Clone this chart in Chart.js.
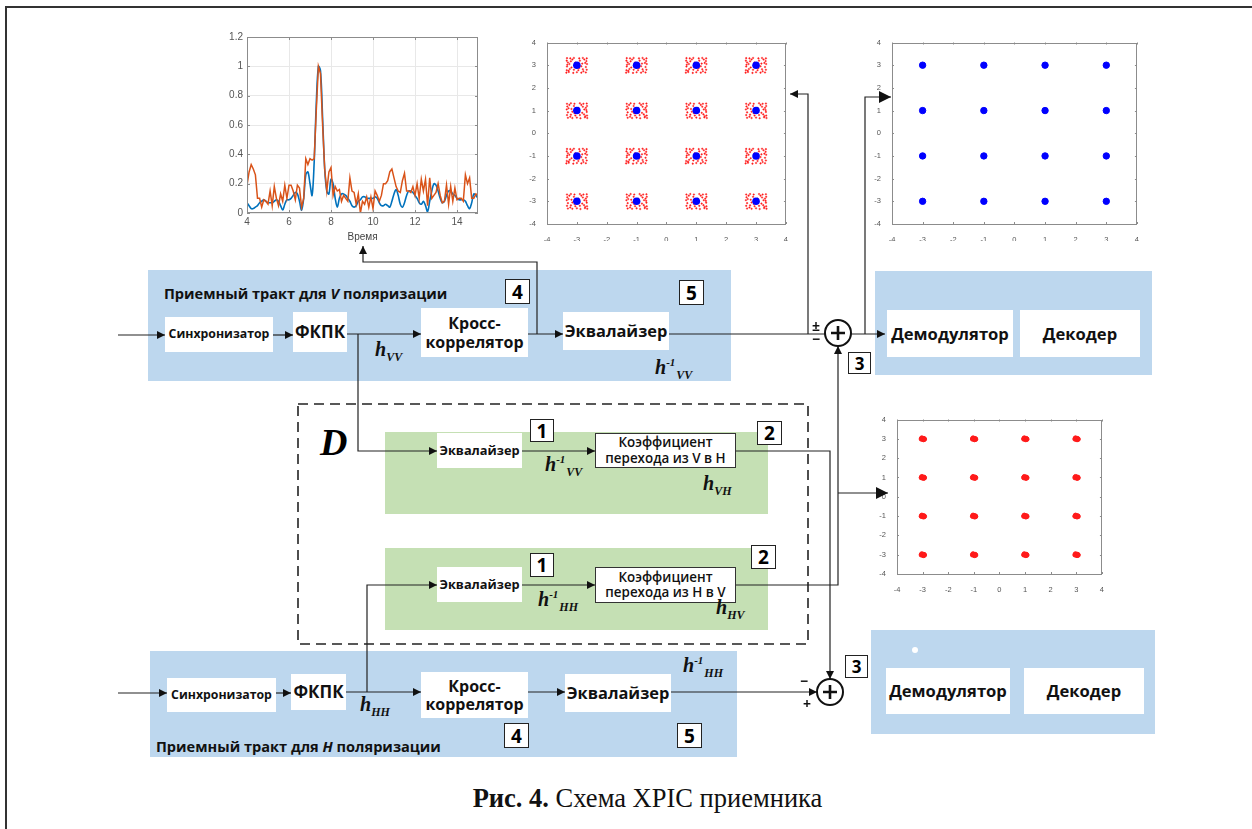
<!DOCTYPE html>
<html>
<head>
<meta charset="utf-8">
<script src="https://cdn.jsdelivr.net/npm/chart.js@4/dist/chart.umd.min.js"></script>
<style>
  body { margin: 0; background: #fff; }
  #page { position: relative; width: 1252px; height: 829px; overflow: hidden; background: #fff; font-family: 'Open Sans', sans-serif; }
  .abs { position: absolute; }
  .panel-b { position: absolute; background: #bdd7ee; }
  .panel-g { position: absolute; background: #c5e0b4; }
  .box { position: absolute; background: #fff; display: flex; align-items: center; justify-content: center; text-align: center; font-weight: 700; color: #111; line-height: 1.15; white-space: nowrap; }
  .num { position: absolute; background: #fff; border: 1.5px solid #222; font-weight: 700; font-size: 19px; display: flex; align-items: center; justify-content: center; box-sizing: border-box; font-family: 'Open Sans', sans-serif; }
  .h { position: absolute; font-family: 'Liberation Serif', serif; font-weight: 700; font-style: italic; font-size: 20px; white-space: nowrap; color: #111; }
  .h sub { font-size: 12px; vertical-align: -5px; }
  .h sup { font-size: 11px; vertical-align: 8px; margin-right: 1px; }
  .title { position: absolute; font-weight: 700; font-size: 14.6px; white-space: nowrap; color: #111; }
  canvas { position: absolute; }
</style>
</head>
<body>
<div id="page">
  <div class="abs" style="left:5px;top:6px;width:1300px;height:900px;border-left:2px solid #333;border-top:2px solid #333;"></div>

  <!-- V path -->
  <div class="panel-b" style="left:148px;top:270px;width:583px;height:111px;"></div>
  <div class="title" style="left:164px;top:283px;">Приемный тракт для <i>V</i> поляризации</div>
  <div class="num" style="left:505px;top:279px;width:25px;height:25px;">4</div>
  <div class="num" style="left:679px;top:280px;width:25px;height:25px;">5</div>
  <div class="box" style="left:165px;top:317px;width:108px;height:35px;font-size:12.3px;">Синхронизатор</div>
  <div class="box" style="left:293px;top:312px;width:54px;height:40px;font-size:17px;">ФКПК</div>
  <div class="box" style="left:421px;top:308px;width:107px;height:49px;font-size:16px;">Кросс-<br>коррелятор</div>
  <div class="box" style="left:563px;top:312px;width:106px;height:38px;font-size:16.4px;">Эквалайзер</div>
  <div class="h" style="left:375px;top:338px;"><i>h</i><sub>VV</sub></div>
  <div class="h" style="left:655px;top:356px;"><i>h</i><sup>-1</sup><sub>VV</sub></div>

  <!-- V output -->
  <div class="panel-b" style="left:875px;top:271px;width:277px;height:104px;"></div>
  <div class="box" style="left:887px;top:310px;width:126px;height:47px;font-size:16.6px;">Демодулятор</div>
  <div class="box" style="left:1020px;top:310px;width:120px;height:47px;font-size:16.6px;">Декодер</div>
  <div class="num" style="left:848px;top:352px;width:23px;height:22px;font-size:17px;">3</div>

  <!-- D block -->
  <div class="abs" style="left:320px;top:420px;font-family:'Liberation Serif',serif;font-weight:700;font-style:italic;font-size:38px;">D</div>
  <div class="panel-g" style="left:385px;top:432px;width:383px;height:82px;"></div>
  <div class="box" style="left:437px;top:433px;width:85px;height:35px;font-size:12.8px;">Эквалайзер</div>
  <div class="num" style="left:530px;top:419px;width:24px;height:23px;">1</div>
  <div class="box" style="left:595px;top:433px;width:141px;height:35px;font-size:13.4px;font-weight:600;border:1px solid #333;box-sizing:border-box;">Коэффициент<br>перехода из V в H</div>
  <div class="num" style="left:757px;top:421px;width:25px;height:24px;">2</div>
  <div class="h" style="left:545px;top:453px;"><i>h</i><sup>-1</sup><sub>VV</sub></div>
  <div class="h" style="left:703px;top:472px;"><i>h</i><sub>VH</sub></div>

  <div class="panel-g" style="left:385px;top:548px;width:383px;height:82px;"></div>
  <div class="box" style="left:437px;top:567px;width:85px;height:35px;font-size:12.8px;">Эквалайзер</div>
  <div class="num" style="left:530px;top:553px;width:24px;height:24px;">1</div>
  <div class="box" style="left:595px;top:567px;width:141px;height:36px;font-size:13.4px;font-weight:600;border:1px solid #333;box-sizing:border-box;">Коэффициент<br>перехода из H в V</div>
  <div class="num" style="left:751px;top:545px;width:25px;height:24px;">2</div>
  <div class="h" style="left:538px;top:588px;"><i>h</i><sup>-1</sup><sub>HH</sub></div>
  <div class="h" style="left:716px;top:596px;"><i>h</i><sub>HV</sub></div>

  <!-- H path -->
  <div class="panel-b" style="left:150px;top:651px;width:587px;height:106px;"></div>
  <div class="title" style="left:156px;top:736px;">Приемный тракт для <i>H</i> поляризации</div>
  <div class="num" style="left:504px;top:723px;width:25px;height:25px;">4</div>
  <div class="num" style="left:677px;top:723px;width:25px;height:25px;">5</div>
  <div class="box" style="left:167px;top:678px;width:109px;height:34px;font-size:12.3px;">Синхронизатор</div>
  <div class="box" style="left:291px;top:674px;width:55px;height:36px;font-size:17px;">ФКПК</div>
  <div class="box" style="left:421px;top:672px;width:107px;height:46px;font-size:16px;">Кросс-<br>коррелятор</div>
  <div class="box" style="left:565px;top:674px;width:106px;height:38px;font-size:16.4px;">Эквалайзер</div>
  <div class="h" style="left:360px;top:693px;"><i>h</i><sub>HH</sub></div>
  <div class="h" style="left:683px;top:654px;"><i>h</i><sup>-1</sup><sub>HH</sub></div>

  <!-- H output -->
  <div class="panel-b" style="left:871px;top:630px;width:284px;height:104px;"></div>
  <div class="abs" style="left:912px;top:647px;width:6px;height:6px;border-radius:50%;background:#fff;"></div>
  <div class="box" style="left:886px;top:668px;width:124px;height:46px;font-size:16.6px;">Демодулятор</div>
  <div class="box" style="left:1024px;top:668px;width:120px;height:46px;font-size:16.6px;">Декодер</div>
  <div class="num" style="left:845px;top:655px;width:23px;height:23px;font-size:17px;">3</div>

  <div class="abs" style="left:0;top:783px;width:1295px;text-align:center;font-family:'Liberation Serif',serif;font-size:26.5px;color:#111;"><b>Рис. 4.</b> Схема XPIC приемника</div>

  <canvas id="corr" width="268" height="220" style="left:215px;top:27px;"></canvas>
  <canvas id="const1" width="264" height="206" style="left:527px;top:35px;"></canvas>
  <canvas id="const2" width="270" height="206" style="left:872px;top:35px;"></canvas>
  <canvas id="const3" width="228" height="181" style="left:879px;top:412px;"></canvas>

  <svg class="abs" width="1252" height="829" style="left:0;top:0;pointer-events:none;">
    <defs>
      <marker id="ar" viewBox="0 0 10 10" refX="10" refY="5" markerWidth="8" markerHeight="8" markerUnits="userSpaceOnUse" orient="auto">
        <path d="M0,0 L10,5 L0,10 z" fill="#111"/>
      </marker>
      <marker id="arBig" viewBox="0 0 10 10" refX="10" refY="5" markerWidth="14" markerHeight="12" markerUnits="userSpaceOnUse" orient="auto">
        <path d="M0,0 L10,5 L0,10 z" fill="#111"/>
      </marker>
    </defs>
    <g fill="none" stroke="#222" stroke-width="1.2">
      <path d="M118,335 H165" marker-end="url(#ar)"/>
      <path d="M273,335 H293" marker-end="url(#ar)"/>
      <path d="M347,334 H421" marker-end="url(#ar)"/>
      <path d="M528,334 H563" marker-end="url(#ar)"/>
      <path d="M537,334 V262 H363 V246" marker-end="url(#ar)"/>
      <path d="M669,334 H825"/>
      <path d="M808,334 V94 H790" marker-end="url(#ar)"/>
      <path d="M851,334 H885" marker-end="url(#ar)"/>
      <path d="M865,334 V97 H891" marker-end="url(#arBig)"/>
      <path d="M358,334 V451 H437" marker-end="url(#ar)"/>
      <path d="M522,451 H595" marker-end="url(#ar)"/>
      <path d="M736,451 H830 V679" marker-end="url(#ar)"/>
      <path d="M367,692 V585 H437" marker-end="url(#ar)"/>
      <path d="M522,585 H595" marker-end="url(#ar)"/>
      <path d="M736,585 H838 V346" marker-end="url(#ar)"/>
      <path d="M838,493 H888" marker-end="url(#arBig)"/>
      <path d="M118,693 H167" marker-end="url(#ar)"/>
      <path d="M276,693 H291" marker-end="url(#ar)"/>
      <path d="M346,692 H421" marker-end="url(#ar)"/>
      <path d="M528,692 H565" marker-end="url(#ar)"/>
      <path d="M671,692 H817" marker-end="url(#ar)"/>
      <rect x="298" y="404" width="510" height="240" stroke-dasharray="10,6" stroke-width="1.6"/>
    </g>
    <g fill="none" stroke="#111" stroke-width="2">
      <circle cx="838" cy="333" r="13"/>
      <path d="M831,333 H845 M838,326 V340" stroke-width="2.6"/>
      <circle cx="830" cy="692" r="13"/>
      <path d="M823,692 H837 M830,685 V699" stroke-width="2.6"/>
    </g>
    <g font-family="Open Sans, sans-serif" font-weight="700" fill="#111">
      <text x="812" y="331" font-size="14">±</text>
      <text x="812" y="344" font-size="14">−</text>
      <text x="800" y="686" font-size="14">−</text>
      <text x="803" y="709" font-size="14">+</text>
    </g>
  </svg>
</div>

<script>
// correlation curves (time axis in samples)
const timeSteps = [
  4.0, 4.1, 4.2, 4.3, 4.4, 4.5, 4.6, 4.7, 4.8, 4.9,
  5.0, 5.1, 5.2, 5.3, 5.4, 5.5, 5.6, 5.7, 5.8, 5.9,
  6.0, 6.1, 6.2, 6.3, 6.4, 6.5, 6.6, 6.7, 6.8, 6.9,
  7.0, 7.1, 7.2, 7.3, 7.4, 7.5, 7.6, 7.7, 7.8, 7.9,
  8.0, 8.1, 8.2, 8.3, 8.4, 8.5, 8.6, 8.7, 8.8, 8.9,
  9.0, 9.1, 9.2, 9.3, 9.4, 9.5, 9.6, 9.7, 9.8, 9.9,
  10.0, 10.1, 10.2, 10.3, 10.4, 10.5, 10.6, 10.7, 10.8, 10.9,
  11.0, 11.1, 11.2, 11.3, 11.4, 11.5, 11.6, 11.7, 11.8, 11.9,
  12.0, 12.1, 12.2, 12.3, 12.4, 12.5, 12.6, 12.7, 12.8, 12.9,
  13.0, 13.1, 13.2, 13.3, 13.4, 13.5, 13.6, 13.7, 13.8, 13.9,
  14.0, 14.1, 14.2, 14.3, 14.4, 14.5, 14.6, 14.7, 14.8, 14.9,
  15.0
];
const corrBlue = [
  0.07, 0.05, 0.03, 0.03, 0.04, 0.05, 0.07, 0.08, 0.09, 0.08,
  0.07, 0.07, 0.07, 0.08, 0.09, 0.08, 0.05, 0.02, 0.06, 0.09,
  0.09, 0.10, 0.12, 0.14, 0.13, 0.08, 0.02, 0.10, 0.26, 0.28,
  0.20, 0.12, 0.35, 0.75, 1.00, 0.97, 0.65, 0.30, 0.15, 0.13,
  0.23, 0.20, 0.10, 0.04, 0.10, 0.13, 0.13, 0.12, 0.10, 0.08,
  0.05, 0.04, 0.05, 0.08, 0.09, 0.11, 0.11, 0.10, 0.10, 0.10,
  0.10, 0.11, 0.10, 0.07, 0.05, 0.05, 0.06, 0.05, 0.04, 0.08,
  0.13, 0.16, 0.12, 0.06, 0.04, 0.07, 0.12, 0.15, 0.15, 0.14,
  0.12, 0.10, 0.07, 0.06, 0.08, 0.05, 0.01, 0.08, 0.15, 0.20,
  0.19, 0.15, 0.10, 0.07, 0.08, 0.12, 0.15, 0.15, 0.13, 0.12,
  0.10, 0.09, 0.09, 0.09, 0.08, 0.05, 0.03, 0.07, 0.13, 0.12,
  0.10
];
const corrOrange = [
  0.19, 0.28, 0.33, 0.30, 0.26, 0.10, 0.10, 0.04, 0.09, 0.08,
  0.06, 0.15, 0.05, 0.18, 0.10, 0.05, 0.13, 0.08, 0.19, 0.10,
  0.19, 0.19, 0.15, 0.09, 0.19, 0.17, 0.04, 0.10, 0.37, 0.33,
  0.37, 0.36, 0.37, 0.70, 1.00, 0.95, 0.60, 0.30, 0.15, 0.28,
  0.31, 0.12, 0.18, 0.15, 0.16, 0.08, 0.12, 0.10, 0.08, 0.24,
  0.15, 0.14, 0.06, 0.13, 0.00, 0.08, 0.06, 0.11, 0.04, 0.11,
  0.03, 0.15, 0.12, 0.08, 0.12, 0.20, 0.20, 0.22, 0.28, 0.30,
  0.24, 0.18, 0.15, 0.14, 0.22, 0.27, 0.15, 0.15, 0.14, 0.18,
  0.12, 0.20, 0.10, 0.23, 0.15, 0.23, 0.05, 0.24, 0.10, 0.12,
  0.14, 0.20, 0.12, 0.07, 0.08, 0.19, 0.06, 0.18, 0.08, 0.17,
  0.09, 0.10, 0.10, 0.08, 0.26, 0.20, 0.24, 0.10, 0.10, 0.13,
  0.12
];
const corrTicksX = [4, 6, 8, 10, 12, 14];
const corrTicksY = [0, 0.2, 0.4, 0.6, 0.8, 1, 1.2];
const corrTickLabels = ['0', '0.2', '0.4', '0.6', '0.8', '1', '1.2'];

// 16-QAM constellation
const qamLevels = [-3, -1, 1, 3];
const constTicks = [-4, -3, -2, -1, 0, 1, 2, 3, 4];
// spread of received points round each ideal point (before compensation)
const noiseOffsets = [
  [-0.33, 0.30], [-0.20, 0.32], [-0.08, 0.30], [0.10, 0.32], [0.22, 0.30], [0.33, 0.31],
  [-0.32, 0.18], [-0.10, 0.20], [0.20, 0.17], [0.34, 0.20], [-0.25, 0.25], [0.15, 0.25],
  [-0.34, 0.05], [-0.18, 0.07], [0.25, 0.05], [0.32, 0.02], [0.05, 0.12],
  [-0.30, -0.08], [-0.15, -0.05], [0.18, -0.10], [0.33, -0.06], [-0.08, -0.12],
  [-0.33, -0.20], [-0.20, -0.18], [-0.05, -0.22], [0.10, -0.20], [0.24, -0.17], [0.34, -0.22],
  [-0.30, -0.32], [-0.15, -0.33], [0.00, -0.31], [0.12, -0.34], [0.27, -0.30], [0.35, -0.33],
  [-0.22, -0.27], [0.28, -0.25], [-0.28, 0.10], [0.30, 0.12]
];
// small residual spread after XPIC
const residualOffsets = [
  [0, 0], [0.05, 0.01], [-0.05, -0.01], [0.03, -0.04], [-0.03, 0.04], [0.07, -0.02]
];

const idealPoints = [];
qamLevels.forEach(i => qamLevels.forEach(q => idealPoints.push({ x: i, y: q })));

const noisyPoints = [];
idealPoints.forEach((p, k) => noiseOffsets.forEach(o => {
  const dx = k % 2 ? -o[0] : o[0];
  noisyPoints.push({ x: p.x + dx, y: p.y + o[1] });
}));
const cleanPoints = [];
idealPoints.forEach(p => residualOffsets.forEach(o => cleanPoints.push({ x: p.x + o[0], y: p.y + o[1] })));

// MATLAB-like box with inward ticks
const matlabBox = {
  id: 'matlabBox',
  afterDraw(chart, args, opts) {
    const { ctx, chartArea: a, scales } = chart;
    ctx.save();
    ctx.strokeStyle = opts.color || '#7f7f7f';
    ctx.lineWidth = 1;
    ctx.strokeRect(Math.round(a.left) + 0.5, Math.round(a.top) + 0.5, Math.round(a.width) - 1, Math.round(a.height) - 1);
    const len = opts.tick || 3;
    ctx.beginPath();
    scales.x.ticks.forEach(t => {
      const px = Math.round(scales.x.getPixelForValue(t.value)) + 0.5;
      ctx.moveTo(px, a.bottom); ctx.lineTo(px, a.bottom - len);
      ctx.moveTo(px, a.top); ctx.lineTo(px, a.top + len);
    });
    scales.y.ticks.forEach(t => {
      const py = Math.round(scales.y.getPixelForValue(t.value)) + 0.5;
      ctx.moveTo(a.left, py); ctx.lineTo(a.left + len, py);
      ctx.moveTo(a.right, py); ctx.lineTo(a.right - len, py);
    });
    ctx.stroke();
    ctx.restore();
  }
};

Chart.defaults.font.family = "'Liberation Sans', Arial, sans-serif";
Chart.defaults.color = '#555';

new Chart(document.getElementById('corr'), {
  type: 'line',
  data: {
    datasets: [
      {
        data: timeSteps.map((t, i) => ({ x: t, y: corrBlue[i] })),
        borderColor: '#0072bd', borderWidth: 1.6, pointRadius: 0, tension: 0.35, order: 2
      },
      {
        data: timeSteps.map((t, i) => ({ x: t, y: corrOrange[i] })),
        borderColor: '#d95319', borderWidth: 1.5, pointRadius: 0, tension: 0, order: 1
      }
    ]
  },
  options: {
    responsive: false, animation: false, devicePixelRatio: 1,
    layout: { padding: { top: 0, right: 5 } },
    plugins: { legend: { display: false }, tooltip: { enabled: false }, matlabBox: { color: '#8c8c8c', tick: 3 } },
    scales: {
      x: {
        type: 'linear', min: 4, max: 15,
        afterBuildTicks: s => { s.ticks = corrTicksX.map(v => ({ value: v })); },
        afterFit: s => { s.height = 34; },
        ticks: { font: { size: 10 }, padding: 3, maxRotation: 0 },
        grid: { color: '#e8e8e8', drawTicks: false },
        border: { display: false },
        title: { display: true, text: 'Время', font: { size: 10 }, color: '#444', padding: { top: 1 } }
      },
      y: {
        min: 0, max: 1.2,
        afterBuildTicks: s => { s.ticks = corrTicksY.map(v => ({ value: v })); },
        ticks: { font: { size: 10 }, padding: 4, callback: (v, i) => corrTickLabels[i] },
        afterFit: s => { s.width = 32; },
        grid: { color: '#e8e8e8', drawTicks: false },
        border: { display: false }
      }
    }
  },
  plugins: [matlabBox]
});

function constOptions(yWidth, xHeight, pad) {
  const axis = {
    type: 'linear', min: -4, max: 4,
    afterBuildTicks: s => { s.ticks = constTicks.map(v => ({ value: v })); },
    ticks: { font: { size: 7.5 }, padding: 3, maxRotation: 0 },
    grid: { display: false },
    border: { display: false }
  };
  return {
    responsive: false, animation: false, devicePixelRatio: 1,
    layout: { padding: pad },
    plugins: { legend: { display: false }, tooltip: { enabled: false }, matlabBox: { color: '#8c8c8c', tick: 2 } },
    scales: {
      x: Object.assign({}, axis, { afterFit: s => { s.height = xHeight; } }),
      y: Object.assign({}, axis, { afterFit: s => { s.width = yWidth; } })
    }
  };
}

new Chart(document.getElementById('const1'), {
  type: 'scatter',
  data: {
    datasets: [
      { data: idealPoints, backgroundColor: '#0000ff', borderColor: '#0000ff', pointRadius: 3.8, borderWidth: 0 },
      { data: noisyPoints, backgroundColor: '#ff1a1a', borderColor: '#ff1a1a', pointRadius: 0.8, borderWidth: 0.4 }
    ]
  },
  options: constOptions(20, 17, { top: 5, right: 5 }),
  plugins: [matlabBox]
});

new Chart(document.getElementById('const2'), {
  type: 'scatter',
  data: {
    datasets: [
      { data: idealPoints, backgroundColor: '#0000ff', borderColor: '#0000ff', pointRadius: 3.2 }
    ]
  },
  options: constOptions(20, 17, { top: 5, right: 5 }),
  plugins: [matlabBox]
});

new Chart(document.getElementById('const3'), {
  type: 'scatter',
  data: {
    datasets: [
      { data: cleanPoints, backgroundColor: '#ff1a1a', borderColor: '#ff1a1a', pointRadius: 2.2 }
    ]
  },
  options: constOptions(18, 19, { top: 5, right: 4 }),
  plugins: [matlabBox]
});
</script>
</body>
</html>
